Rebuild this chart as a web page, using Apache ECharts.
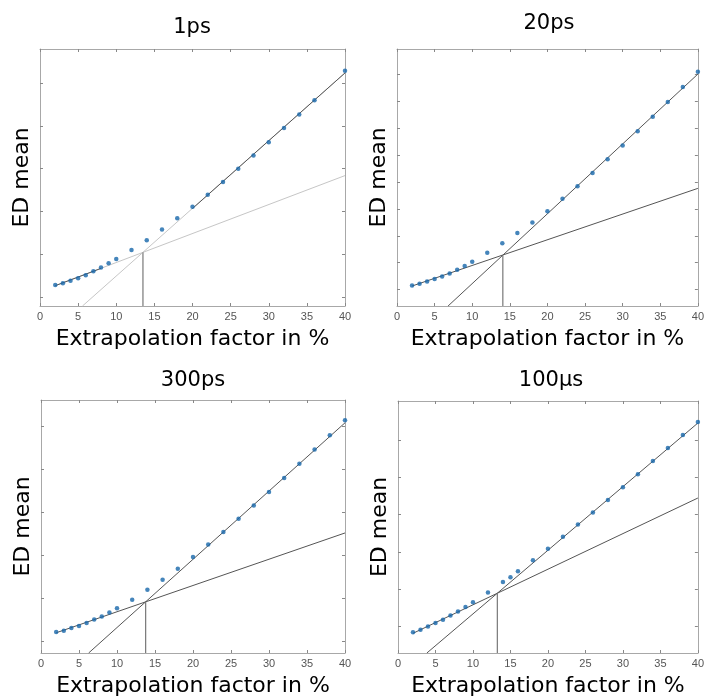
<!DOCTYPE html>
<html>
<head>
<meta charset="utf-8">
<script src="https://cdn.jsdelivr.net/npm/echarts@6/dist/echarts.min.js"></script>
<style>html,body{margin:0;padding:0;background:#fff}#c{width:707px;height:698px}</style>
</head>
<body>
<div id="c"></div>
<script>
// ---- data (y in arbitrary "ED mean" units; y ticks at integers) ----
const titles = ['1ps', '20ps', '300ps', '100µs'];
const xTickInterval = 5;
const yTicks1 = [1, 2, 3, 4, 5, 6];
const yTicks2 = [1, 2, 3, 4, 5, 6, 7, 8, 9];
const yTicks3 = [1, 2, 3, 4, 5, 6];
const yTicks4 = [1, 2, 3, 4, 5, 6];
const yRange1 = [0.79, 6.80];
const yRange2 = [0.395, 9.93];
const yRange3 = [0.73, 6.61];
const yRange4 = [0.287, 7.04];

const x1 = [2,3,4,5,6,7,8,9,10,12,14,16,18,20,22,24,26,28,30,32,34,36,40];
const y1 = [1.28,1.32,1.38,1.44,1.51,1.60,1.69,1.79,1.89,2.10,2.33,2.58,2.84,3.11,3.39,3.69,4.00,4.31,4.62,4.95,5.27,5.60,6.29];
const x2 = [2,3,4,5,6,7,8,9,10,12,14,16,18,20,22,24,26,28,30,32,34,36,38,40];
const y2 = [1.16,1.22,1.30,1.40,1.49,1.60,1.74,1.88,2.04,2.37,2.72,3.10,3.49,3.91,4.37,4.84,5.33,5.84,6.35,6.88,7.42,7.96,8.52,9.09];
const x3 = [2,3,4,5,6,7,8,9,10,12,14,16,18,20,22,24,26,28,30,32,34,36,38,40];
const y3 = [1.22,1.25,1.31,1.36,1.43,1.51,1.58,1.67,1.77,1.97,2.20,2.43,2.69,2.96,3.25,3.54,3.85,4.16,4.47,4.80,5.13,5.46,5.79,6.14];
const x4 = [2,3,4,5,6,7,8,9,10,12,14,15,16,18,20,22,24,26,28,30,32,34,36,38,40];
const y4 = [0.84,0.91,1.00,1.09,1.18,1.29,1.40,1.52,1.65,1.91,2.19,2.32,2.48,2.77,3.08,3.40,3.73,4.05,4.39,4.73,5.08,5.43,5.78,6.13,6.48];

// fit lines: endpoints [[x,y],[x,y]]
const steep1 = [[5.57, 0.79], [40, 6.24]];
const shallow1 = [[2, 1.265], [40, 3.84]];
const steep2 = [[6.79, 0.395], [40, 9.00]];
const shallow2 = [[2, 1.136], [40, 4.76]];
const steep3 = [[6.27, 0.73], [40, 6.08]];
const shallow3 = [[2, 1.20], [40, 3.52]];
const steep4 = [[3.85, 0.287], [40, 6.45]];
const shallow4 = [[2, 0.815], [40, 4.44]];
// intersection points
const cross1 = [13.5, 2.045];
const cross2 = [14.07, 2.28];
const cross3 = [13.77, 1.92];
const cross4 = [13.25, 1.89];
// darker fit-range segments (panel 1)
const fitLow1 = [[2, 1.265], [8, 1.67]];
const fitHigh1 = [[20, 3.07], [40, 6.24]];

// ---- build ----
const panels = [
  {x: x1, y: y1, steep: steep1, shallow: shallow1, cross: cross1, yr: yRange1, yt: yTicks1, light: true},
  {x: x2, y: y2, steep: steep2, shallow: shallow2, cross: cross2, yr: yRange2, yt: yTicks2},
  {x: x3, y: y3, steep: steep3, shallow: shallow3, cross: cross3, yr: yRange3, yt: yTicks3},
  {x: x4, y: y4, steep: steep4, shallow: shallow4, cross: cross4, yr: yRange4, yt: yTicks4}
];
const gridPos = [
  {left: 40, top: 49, width: 305, height: 257},
  {left: 397, top: 49, width: 304, height: 257},
  {left: 41, top: 400, width: 304, height: 256},
  {left: 398, top: 401, width: 304, height: 256}
];
const titlePos = [[192, 17], [549, 13], [193, 370], [551, 370]];

const boxColor = '#a8a8a8';
const grid = [], xAxis = [], yAxis = [], series = [], title = [];
panels.forEach((p, i) => {
  grid.push(Object.assign({containLabel: false}, gridPos[i]));
  title.push({text: titles[i], left: titlePos[i][0], top: titlePos[i][1], padding: 0,
    textAlign: 'center', textVerticalAlign: 'top',
    textStyle: {fontFamily: 'DejaVu Sans', fontSize: 21, fontWeight: 'normal', color: '#000'}});
  const tick = {show: true, inside: true, length: 3, lineStyle: {color: '#888', width: 1}};
  xAxis.push({gridIndex: i, type: 'value', min: 0, max: 40, interval: xTickInterval, position: 'bottom',
    axisLine: {show: true, onZero: false, lineStyle: {color: boxColor}},
    axisTick: tick, splitLine: {show: false},
    axisLabel: {show: true, margin: 5, fontSize: 11, color: '#555', fontFamily: 'Liberation Sans'},
    name: 'Extrapolation factor in %', nameLocation: 'middle', nameGap: 22,
    nameTextStyle: {fontFamily: 'DejaVu Sans', fontSize: 22, color: '#000'}});
  xAxis.push({gridIndex: i, type: 'value', min: 0, max: 40, interval: xTickInterval, position: 'top',
    axisLine: {show: true, onZero: false, lineStyle: {color: boxColor}},
    axisTick: tick, splitLine: {show: false}, axisLabel: {show: false}});
  const ytick = {show: true, inside: true, length: 3, customValues: p.yt, lineStyle: {color: '#888', width: 1}};
  yAxis.push({gridIndex: i, type: 'value', min: p.yr[0], max: p.yr[1], position: 'left',
    axisLine: {show: true, onZero: false, lineStyle: {color: boxColor}},
    axisTick: ytick, splitLine: {show: false}, axisLabel: {show: false},
    name: 'ED mean', nameLocation: 'middle', nameGap: 7, nameRotate: 90,
    nameTextStyle: {fontFamily: 'DejaVu Sans', fontSize: 22, color: '#000'}});
  yAxis.push({gridIndex: i, type: 'value', min: p.yr[0], max: p.yr[1], position: 'right',
    axisLine: {show: true, onZero: false, lineStyle: {color: boxColor}},
    axisTick: ytick, splitLine: {show: false}, axisLabel: {show: false}});

  const lineColor = p.light ? '#c6c6c6' : '#555';
  const mk = (data, color, width, type) => ({
    type: 'line', xAxisIndex: 2 * i, yAxisIndex: 2 * i, data: data, symbol: 'none', silent: true,
    lineStyle: {color: color, width: width, type: type || 'solid'}, z: 2
  });
  series.push(mk(p.steep, lineColor, 1));
  series.push(mk(p.shallow, lineColor, 1));
  series.push(mk([[p.cross[0], p.yr[0]], [p.cross[0], p.cross[1]]], p.light ? '#9a9a9a' : '#777', p.light ? 1.6 : 1.2));
  if (p.light) {
    series.push(mk(fitLow1, '#555', 1));
    series.push(mk(fitHigh1, '#555', 1));
  }
  series.push({type: 'scatter', xAxisIndex: 2 * i, yAxisIndex: 2 * i, symbolSize: 4.5,
    data: p.x.map((v, k) => [v, p.y[k]]), itemStyle: {color: '#1766aa'}, z: 5});
});

const chart = echarts.init(document.getElementById('c'), null, {renderer: 'canvas'});
chart.setOption({animation: false, backgroundColor: '#fff', title, grid, xAxis, yAxis, series});
</script>
</body>
</html>
